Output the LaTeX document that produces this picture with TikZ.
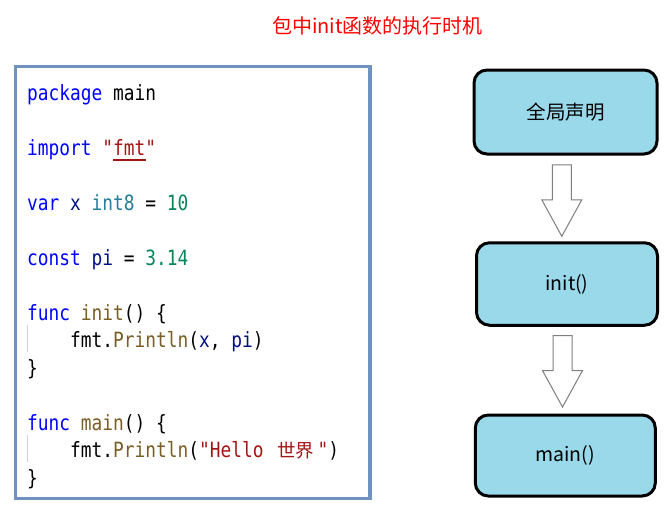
\documentclass[tikz,border=0pt]{standalone}
\usepackage{fontspec}
\newfontfamily\codefont[FakeStretch=0.85]{DejaVu Sans Mono}
\newfontfamily\cjk{Noto Sans CJK SC}
\usetikzlibrary{calc}
\definecolor{kw}{HTML}{0000FF}
\definecolor{ty}{HTML}{267F99}
\definecolor{num}{HTML}{098658}
\definecolor{str}{HTML}{A31515}
\definecolor{fn}{HTML}{795E26}
\definecolor{vr}{HTML}{001080}
\definecolor{boxfill}{HTML}{99D9EA}
\definecolor{frame}{HTML}{7092BE}
\definecolor{arrowgray}{HTML}{7F7F7F}
\definecolor{guidegray}{HTML}{D3D3D3}
\definecolor{titlered}{HTML}{FF0000}
\begin{document}
\begin{tikzpicture}[x=1pt,y=-1pt,
  codeline/.style={anchor=base west, inner sep=0pt, font={\fontsize{21}{25}\selectfont\codefont}},
  stagebox/.style={draw=black, line width=3pt, rounded corners=13pt, fill=boxfill,
    font={\fontsize{19.5}{23}\selectfont\cjk}, inner sep=0pt},
  hollow/.style={draw=arrowgray, line width=1pt, fill=white, line join=miter},
  guide/.style={draw=guidegray, line width=1pt},
  blockarrow/.pic={\path[hollow] (-9.5,0) -- (9.5,0) -- (9.5,35) -- (20,35) -- (0,71.5) -- (-20,35) -- (-9.5,35) -- cycle;}
]
\useasboundingbox (0,0) rectangle (670,522);
\fill[white] (0,0) rectangle (670,522);

% title
\node[text=titlered, font={\fontsize{20}{24}\selectfont\cjk}, inner sep=0pt] (title) at (377.5,26) {包中init函数的执行时机};

% code frame
\node[draw=frame, line width=3.5pt, minimum width=354.7pt, minimum height=431.8pt, inner sep=0pt] (codebox) at (192.65,282.6) {};

% code lines
\node[codeline] (l1) at (27,100) {\textcolor{kw}{package} main};
\node[codeline] (l2) at (27,155) {\textcolor{kw}{import} \textcolor{str}{"fmt"}};
\node[codeline] (l3) at (27,210) {\textcolor{kw}{var} \textcolor{vr}{x} \textcolor{ty}{int8} = \textcolor{num}{10}};
\node[codeline] (l4) at (27,265) {\textcolor{kw}{const} \textcolor{vr}{pi} = \textcolor{num}{3.14}};
\node[codeline] (l5) at (27,320) {\textcolor{kw}{func} \textcolor{fn}{init}() \{};
\node[codeline] (l6) at (70,347.5) {fmt.\textcolor{fn}{Println}(\textcolor{vr}{x}, \textcolor{vr}{pi})};
\node[codeline] (l7) at (27,375) {\}};
\node[codeline] (l8) at (27,430) {\textcolor{kw}{func} \textcolor{fn}{main}() \{};
\node[codeline] (l9) at (70,457.5) {fmt.\textcolor{fn}{Println}(\textcolor{str}{"Hello {\cjk\fontsize{18.5}{20}\selectfont\makebox[43.2pt]{世界}}"})};
\node[codeline] (l10) at (27,485) {\}};

% underline under fmt
\draw[str, line width=2pt] ($(l2.base west)+(86.4,4.5)$) -- ($(l2.base west)+(119,4.5)$);

% indent guides
\draw[guide] (27,325) -- (27,352);
\draw[guide] (27,435) -- (27,462);

% flow boxes
\node[stagebox, minimum width=183pt, minimum height=84pt] (b1) at (565.5,112) {全局声明};
\node[stagebox, minimum width=181pt, minimum height=82.5pt] (b2) at (567,284) {init()};
\node[stagebox, minimum width=180pt, minimum height=81pt] (b3) at (565.3,455.5) {main()};

% hollow arrows
\pic at ($(b1.south)+(-3.7,9.3)$) {blockarrow};
\pic at ($(b2.south)+(-4.5,8.75)$) {blockarrow};
\end{tikzpicture}
\end{document}
